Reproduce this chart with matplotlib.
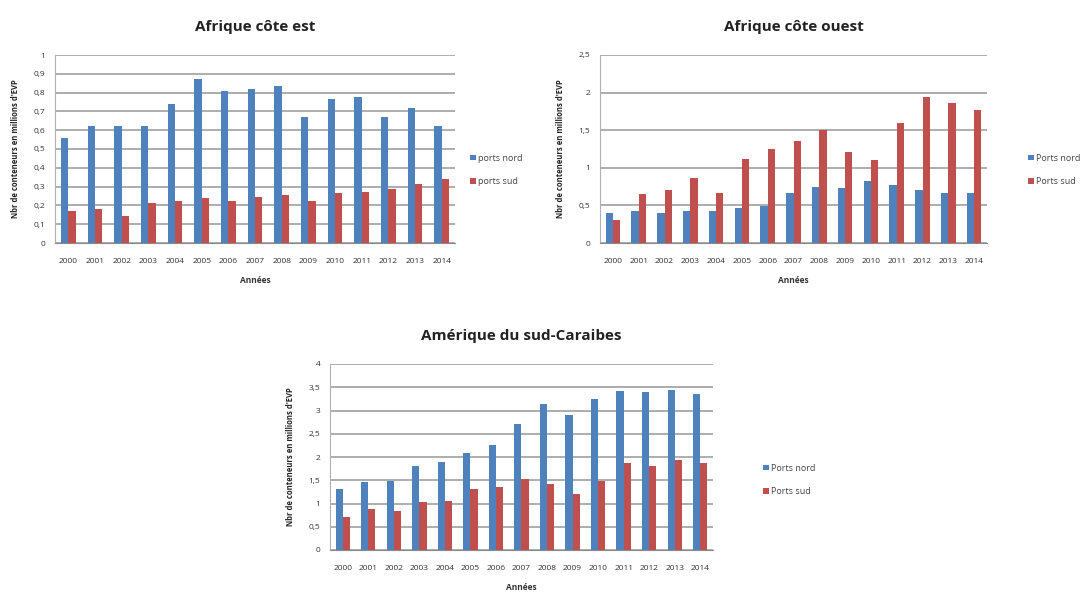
import numpy as np
import matplotlib
matplotlib.use("Agg")
import matplotlib.pyplot as plt
from matplotlib.ticker import FuncFormatter

years = [str(y) for y in range(2000, 2015)]

est_nord = [0.56, 0.62, 0.62, 0.62, 0.74, 0.87, 0.81, 0.82, 0.835, 0.67, 0.765, 0.775, 0.67, 0.72, 0.62]
est_sud = [0.17, 0.18, 0.145, 0.215, 0.225, 0.24, 0.225, 0.245, 0.255, 0.225, 0.265, 0.27, 0.285, 0.315, 0.34]

ouest_nord = [0.40, 0.43, 0.40, 0.42, 0.43, 0.46, 0.49, 0.67, 0.75, 0.73, 0.83, 0.77, 0.71, 0.67, 0.67]
ouest_sud = [0.30, 0.65, 0.70, 0.86, 0.66, 1.12, 1.25, 1.35, 1.50, 1.21, 1.11, 1.59, 1.94, 1.86, 1.77]

amsud_nord = [1.32, 1.46, 1.48, 1.80, 1.90, 2.09, 2.26, 2.72, 3.13, 2.91, 3.24, 3.43, 3.39, 3.44, 3.35]
amsud_sud = [0.70, 0.88, 0.84, 1.04, 1.06, 1.31, 1.36, 1.52, 1.43, 1.20, 1.48, 1.87, 1.80, 1.94, 1.87]

plt.rcParams['font.family'] = ['Open Sans', 'DejaVu Sans']

W, H = 1092, 594
fig = plt.figure(figsize=(W / 100, H / 100), dpi=100)
fig.patch.set_facecolor('white')

blue = '#4F81BD'
red = '#C0504D'
ylab = "Nbr de conteneurs en millions d'EVP"


def comma(v, pos):
    return ('%g' % round(v, 2)).replace('.', ',')


def chart(box, nord, sud, ymax, step, title, labels, leg_xy):
    l, r, t, b = box
    ax = fig.add_axes([l / W, 1 - b / H, (r - l) / W, (b - t) / H])
    x = np.arange(len(years))
    w = 0.28
    ax.bar(x - w / 2, nord, w, color=blue, label=labels[0], zorder=3)
    ax.bar(x + w / 2, sud, w, color=red, label=labels[1], zorder=3)
    ax.set_xlim(-0.5, len(years) - 0.5)
    ax.set_ylim(0, ymax)
    ax.set_yticks(np.arange(0, ymax + step / 2, step))
    ax.yaxis.set_major_formatter(FuncFormatter(comma))
    ax.set_xticks(x)
    ax.set_xticklabels(years)
    ax.tick_params(axis='both', labelsize=6, length=0, colors='#333333')
    ax.tick_params(axis='x', pad=11)
    ax.tick_params(axis='y', pad=7)
    ax.grid(axis='y', color='#a0a0a0', linewidth=1.2, zorder=0)
    for s in ['top', 'right']:
        ax.spines[s].set_visible(False)
    ax.spines['left'].set_color('#b0b0b0')
    ax.spines['bottom'].set_color('#8a8a8a')
    ax.set_title(title, fontsize=11, fontweight='bold', pad=17, color='#222222')
    ax.set_xlabel('Années', fontsize=6, fontweight='bold', labelpad=8, color='#333333')
    ax.set_ylabel(ylab, fontsize=5.5, fontweight='bold', labelpad=10, color='#222222')
    ax.legend(loc='center left', bbox_to_anchor=(leg_xy[0] / W, 1 - leg_xy[1] / H),
              bbox_transform=fig.transFigure, frameon=False, fontsize=6.5,
              handlelength=0.6, handleheight=0.6, handletextpad=0.3, labelspacing=1.6,
              labelcolor='#444444')
    return ax


chart((55, 455, 55, 243), est_nord, est_sud, 1.0, 0.1, 'Afrique côte est',
      ['ports nord', 'ports sud'], (462, 170))
chart((600, 987, 55, 243), ouest_nord, ouest_sud, 2.5, 0.5, 'Afrique côte ouest',
      ['Ports nord', 'Ports sud'], (1020, 170))
chart((330, 713, 364, 550), amsud_nord, amsud_sud, 4.0, 0.5, 'Amérique du sud-Caraibes',
      ['Ports nord', 'Ports sud'], (755, 480))

fig.savefig('out.png', dpi=100, facecolor='white')
